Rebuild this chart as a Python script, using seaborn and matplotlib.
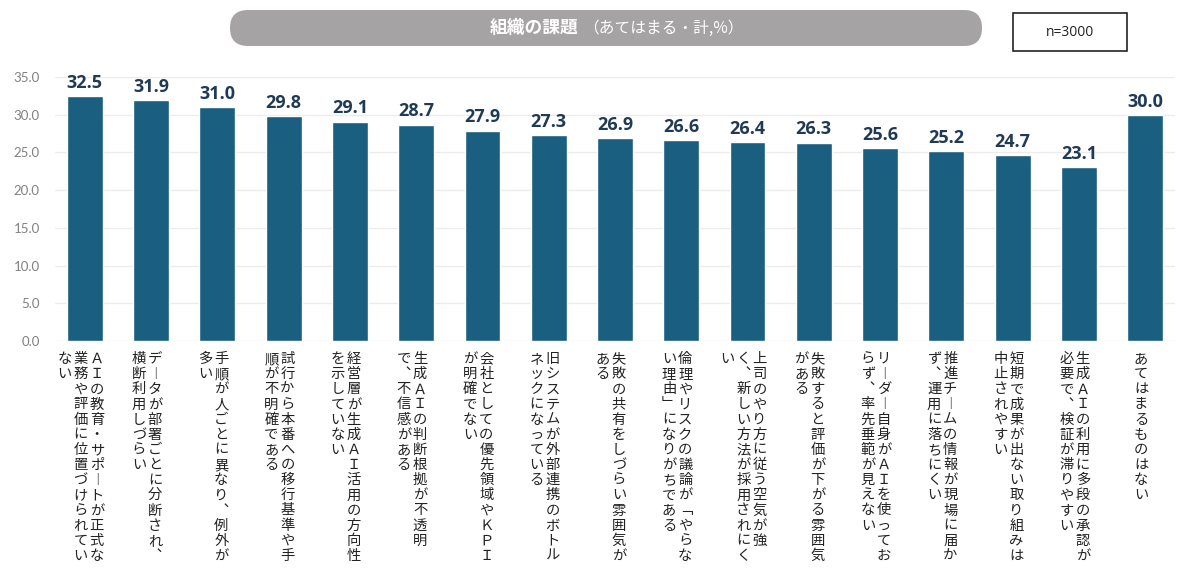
import matplotlib
matplotlib.use("Agg")
import matplotlib.pyplot as plt
from matplotlib.patches import FancyBboxPatch, Rectangle
import pandas as pd
import seaborn as sns

# 縦書きラベル（右の列から順に）
label_columns = [
    ["ＡＩの教育・サポートが正式な", "業務や評価に位置づけられてい", "ない"],
    ["データが部署ごとに分断され、", "横断利用しづらい"],
    ["手順が人ごとに異なり、例外が", "多い"],
    ["試行から本番への移行基準や手", "順が不明確である"],
    ["経営層が生成ＡＩ活用の方向性", "を示していない"],
    ["生成ＡＩの判断根拠が不透明", "で、不信感がある"],
    ["会社としての優先領域やＫＰＩ", "が明確でない"],
    ["旧システムが外部連携のボトル", "ネックになっている"],
    ["失敗の共有をしづらい雰囲気が", "ある"],
    ["倫理やリスクの議論が「やらな", "い理由」になりがちである"],
    ["上司のやり方に従う空気が強", "く、新しい方法が採用されにく", "い"],
    ["失敗すると評価が下がる雰囲気", "がある"],
    ["リーダー自身がＡＩを使ってお", "らず、率先垂範が見えない"],
    ["推進チームの情報が現場に届か", "ず、運用に落ちにくい"],
    ["短期で成果が出ない取り組みは", "中止されやすい"],
    ["生成ＡＩの利用に多段の承認が", "必要で、検証が滞りやすい"],
    ["あてはまるものはない"],
]
categories = ["".join(cols) for cols in label_columns]
values = [32.5, 31.9, 31.0, 29.8, 29.1, 28.7, 27.9, 27.3, 26.9, 26.6,
          26.4, 26.3, 25.6, 25.2, 24.7, 23.1, 30.0]
yticks = [0, 5, 10, 15, 20, 25, 30, 35]

title_main = "組織の課題"
title_sub = "（あてはまる・計,%）"
sample_note = "n=3000"

BAR = "#1a5f80"
NUM = "#1f3a55"

# 縦書き用の字形
VERT = {"、": "︑", "ー": "︱", "「": "﹁", "」": "﹂"}


def main() -> None:
    sns.set_style("white")
    plt.rcParams["font.family"] = ["Noto Sans CJK JP", "DejaVu Sans"]

    df = pd.DataFrame({"cat": categories, "val": values})
    fig = plt.figure(figsize=(12, 5.86), dpi=100)
    ax = fig.add_axes([55 / 1200, 1 - 341 / 586, 1120 / 1200, (341 - 77) / 586])

    sns.barplot(data=df, x="cat", y="val", order=categories, color=BAR,
                width=0.54, saturation=1, ax=ax, zorder=3)

    ax.set_xlim(-0.45, len(categories) - 0.55)
    ax.set_ylim(0, 35)
    ax.set_yticks(yticks)
    ax.set_yticklabels([f"{t:.1f}" for t in yticks], color="#808080",
                       fontsize=9.5, family=["Lato", "DejaVu Sans"])
    ax.tick_params(axis="y", length=0, pad=11)
    ax.set_xticks([])
    ax.set_xlabel("")
    ax.set_ylabel("")
    ax.grid(axis="y", color="#ececec", linewidth=1, zorder=0)
    for sp in ax.spines.values():
        sp.set_visible(False)

    ax.bar_label(ax.containers[0], fmt="%.1f", padding=3, fontsize=13,
                 fontweight="bold", color=NUM, family=["Open Sans", "DejaVu Sans"],
                 clip_on=False)

    # 縦書きのカテゴリラベル（1文字ずつ配置）
    fs = 10.3
    col_pitch = 11.6   # pt
    row_pitch = 10.9   # pt
    top = -13.0        # pt, 1文字目の中心
    for i, cols in enumerate(label_columns):
        n = len(cols)
        for k, col in enumerate(cols):
            dx = ((n - 1) / 2 - k) * col_pitch - 3
            for j, ch in enumerate(col):
                ax.annotate(VERT.get(ch, ch), xy=(i, 0),
                            xytext=(dx, top - j * row_pitch),
                            textcoords="offset points", ha="center", va="center",
                            fontsize=fs, color="#222222", annotation_clip=False)

    # タイトル（丸い灰色の帯）
    pill = FancyBboxPatch((2.30, 5.40), 7.52, 0.36,
                          boxstyle="round,pad=0,rounding_size=0.18",
                          transform=fig.dpi_scale_trans, facecolor="#a5a3a4",
                          edgecolor="none")
    fig.patches.append(pill)
    fig.text(5.78, 5.585, title_main, transform=fig.dpi_scale_trans,
             ha="right", va="center", fontsize=12.8, fontweight="bold", color="white")
    fig.text(5.83, 5.58, title_sub, transform=fig.dpi_scale_trans,
             ha="left", va="center", fontsize=11.3, color="white")

    box = Rectangle((10.13, 5.35), 1.14, 0.38, transform=fig.dpi_scale_trans,
                    facecolor="white", edgecolor="#222222", linewidth=1.2)
    fig.patches.append(box)
    fig.text(10.70, 5.54, sample_note, transform=fig.dpi_scale_trans,
             ha="center", va="center", fontsize=10, color="#222222",
             family=["Open Sans", "DejaVu Sans"])

    fig.savefig("out.png", dpi=100, facecolor="white")


if __name__ == "__main__":
    main()
